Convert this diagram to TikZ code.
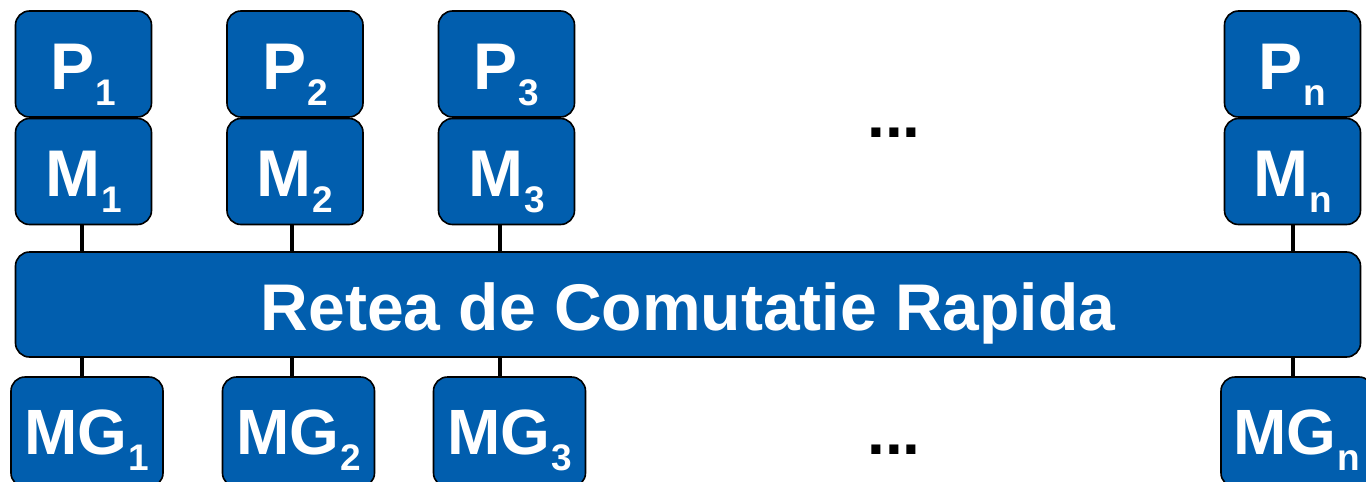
\documentclass[tikz,border=0pt]{standalone}
\usepackage{fontspec}
\setmainfont{Liberation Sans}
\definecolor{boxblue}{RGB}{1,94,174}
\newcommand\mysub[1]{\hspace{1pt}\raisebox{-16pt}{\fontsize{37}{37}\selectfont #1}}
\begin{document}
\begin{tikzpicture}[x=1pt,y=-1pt,
  box/.style={draw=black, line width=1.6pt, fill=boxblue, rounded corners=14pt,
    text=white, font=\fontsize{66}{66}\selectfont\bfseries, inner sep=0pt,
    text height=50pt, text depth=0pt},
  pm/.style={box, minimum width=136pt, minimum height=106pt},
  mg/.style={box, minimum width=152pt, minimum height=110pt, text height=44pt,
    font=\fontsize{64}{64}\selectfont\bfseries},
  bus/.style={box, minimum width=1345pt, minimum height=105pt, text height=51pt},
  link/.style={line width=3.6pt, draw=black},
  dotsnode/.style={font=\fontsize{64}{64}\selectfont\bfseries, inner sep=0pt, anchor=base}]
\useasboundingbox (0,0) rectangle (1366,482);
\clip (0,0) rectangle (1366,482);
% processors
\node[pm] (P1) at (83.5,64) {P\mysub{1}};
\node[pm] (P2) at (295,64) {P\mysub{2}};
\node[pm] (P3) at (506.5,64) {P\mysub{3}};
\node[pm] (Pn) at (1292.5,64) {P\mysub{n}};
% memories
\node[pm] (M1) at (83.5,171.5) {M\mysub{1}};
\node[pm] (M2) at (295,171.5) {M\mysub{2}};
\node[pm] (M3) at (506.5,171.5) {M\mysub{3}};
\node[pm] (Mn) at (1292.5,171.5) {M\mysub{n}};
% bus
\node[bus] (bus) at (688,304.5) {Retea de Comutatie Rapida};
% global memories
\node[mg] (MG1) at (87,432) {MG\mysub{1}};
\node[mg] (MG2) at (298.5,432) {MG\mysub{2}};
\node[mg] (MG3) at (509.5,432) {MG\mysub{3}};
\node[mg] (MGn) at (1297,432) {MG\mysub{n}};
% dots
\node[dotsnode] (d1) at (894,137) {...};
\node[dotsnode] (d2) at (894,454) {...};
% links
\foreach \i/\xx in {1/82,2/292,3/500,n/1293}{
  \draw[link] (\xx,0 |- M\i.south) -- (\xx,0 |- bus.north);
  \draw[link] (\xx,0 |- bus.south) -- (\xx,0 |- MG\i.north);
}
\end{tikzpicture}
\end{document}
